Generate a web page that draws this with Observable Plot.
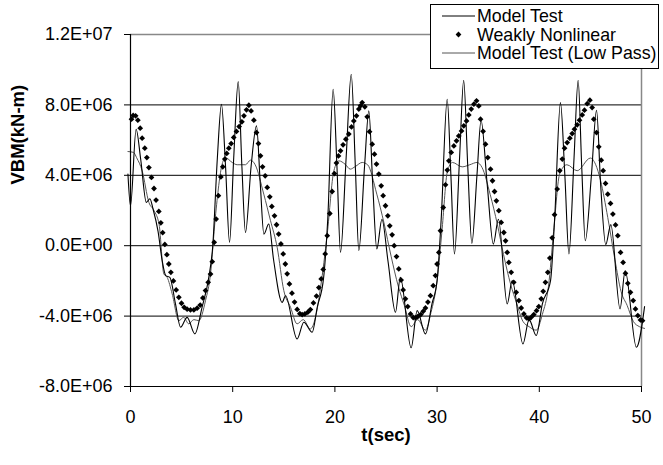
<!DOCTYPE html>
<html>
<head>
<meta charset="utf-8">
<script src="https://cdn.jsdelivr.net/npm/d3@7"></script>
<script src="https://cdn.jsdelivr.net/npm/@observablehq/plot@0.6"></script>
<style>
  html, body { margin: 0; padding: 0; background: #fff; }
  #chart { width: 663px; height: 465px; }
</style>
</head>
<body>
<div id="chart"></div>
<script>
// Values in units of 1E+06 kN-m, time in seconds
const modelTestT = [-0.25,0.0,0.55,1.0,1.55,1.9,2.2,2.7,3.1,3.45,3.85,4.4,4.9,5.54,6.3,7.0,7.66,8.05,8.5,8.9,9.3,9.69,10.1,10.54,10.9,11.25,11.8,12.33,12.7,13.05,13.53,14.0,14.84,15.17,16.3,16.96,17.78,18.27,18.9,19.3,19.83,20.2,20.55,21.1,21.6,22.0,22.34,22.9,23.32,23.7,24.1,24.6,25.2,25.93,26.4,27.46,28.05,28.86,29.5,30.0,30.4,30.99,31.35,31.7,32.2,32.6,33.0,33.4,33.9,34.3,34.9,35.5,36.0,36.86,37.35,38.4,39.0,39.7,40.3,41.1,41.5,42.07,42.5,42.9,43.4,43.8,44.15,44.5,45.1,45.6,46.0,46.5,47.0,47.9,48.4,49.5,50.3];
const modelTestV = [4.07,2.27,6.62,4.9,2.46,2.67,2.1,0.8,-0.85,-1.7,-1.8,-3.3,-4.63,-4.07,-5.01,-3.5,-1.8,0.0,5.0,8.04,4.5,0.19,5.0,9.32,4.5,0.75,4.5,6.81,3.5,0.66,1.23,-0.8,-3.22,-2.84,-5.3,-4.35,-4.92,-3.5,-1.8,1.5,8.89,4.5,-0.38,5.0,9.74,4.5,-0.28,4.5,7.66,3.5,-0.19,1.5,-0.9,-3.78,-1.8,-5.8,-3.69,-5.01,-3.3,-1.98,1.5,8.32,4.0,-0.47,5.0,9.4,4.5,0.13,4.0,7.13,3.5,0.09,1.5,-3.31,-1.98,-5.58,-4.2,-5.1,-3.3,-1.98,1.5,8.13,4.0,-0.47,5.0,9.4,4.5,0.28,4.0,7.7,3.5,0.06,1.2,-3.59,-1.42,-5.77,-3.46];

const weaklyT = [0.1,0.26,0.5,0.72,0.95,1.14,1.4,1.6,1.8,2.05,2.3,2.5,2.77,2.97,3.15,3.36,3.56,3.75,3.95,4.2,4.47,4.73,4.99,5.25,5.54,5.87,6.2,6.52,6.82,7.08,7.34,7.6,7.83,8.0,8.19,8.38,8.6,8.84,9.03,9.23,9.42,9.62,9.85,10.1,10.37,10.63,10.9,11.1,11.35,11.58,11.8,12.07,12.33,12.52,12.72,12.92,13.18,13.38,13.63,13.83,14.09,14.29,14.5,14.72,14.94,15.15,15.33,15.55,15.8,16.05,16.31,16.57,16.8,17.06,17.35,17.6,17.9,18.2,18.43,18.66,18.86,19.05,19.25,19.5,19.73,19.95,20.15,20.35,20.55,20.8,21.07,21.36,21.62,21.85,22.11,22.34,22.5,22.67,22.93,23.16,23.39,23.65,23.87,24.07,24.3,24.53,24.72,24.95,25.18,25.37,25.6,25.8,26.03,26.25,26.48,26.68,26.9,27.13,27.4,27.66,27.9,28.1,28.4,28.64,28.86,29.1,29.35,29.62,29.84,30.0,30.17,30.33,30.6,30.82,31.0,31.15,31.38,31.64,31.9,32.12,32.39,32.61,32.88,33.1,33.34,33.6,33.86,34.08,34.25,34.5,34.74,34.96,35.23,35.42,35.62,35.8,36.04,36.27,36.53,36.7,36.86,37.02,37.25,37.5,37.74,38.0,38.23,38.49,38.75,38.98,39.2,39.46,39.73,39.95,40.19,40.38,40.6,40.83,41.03,41.26,41.49,41.75,42.0,42.25,42.47,42.73,42.99,43.22,43.44,43.71,43.93,44.2,44.42,44.69,44.95,45.17,45.33,45.6,45.82,46.06,46.25,46.48,46.7,46.97,47.2,47.46,47.68,47.95,48.2,48.43,48.66,48.92,49.19,49.41,49.64,49.9,50.1];
const weaklyV = [7.19,7.4,7.38,7.13,6.68,6.11,5.54,5.01,4.44,3.88,3.25,2.59,1.95,1.3,0.74,0.07,-0.51,-1.04,-1.51,-2.0,-2.51,-2.93,-3.27,-3.5,-3.61,-3.65,-3.65,-3.55,-3.37,-2.97,-2.55,-2.08,-1.61,-0.91,0.19,1.51,2.84,3.91,4.48,4.92,5.24,5.54,5.8,6.15,6.49,6.77,7.04,7.38,7.72,7.98,7.66,7.13,6.43,5.8,5.11,4.48,3.97,3.31,2.78,2.23,1.7,1.19,0.66,0.1,-0.47,-1.04,-1.6,-2.17,-2.7,-3.2,-3.62,-3.86,-3.92,-3.88,-3.78,-3.63,-3.25,-2.86,-2.38,-1.89,-1.35,-0.47,0.57,1.83,3.08,4.1,4.7,5.1,5.39,5.73,6.05,6.34,6.75,7.09,7.38,7.76,7.95,8.13,7.89,7.32,6.48,5.77,5.2,4.64,4.07,3.4,2.84,2.27,1.7,1.13,0.62,0.0,-0.62,-1.32,-1.95,-2.51,-3.02,-3.46,-3.88,-4.08,-4.1,-4.03,-3.91,-3.73,-3.54,-3.2,-2.84,-2.27,-1.7,-1.04,-0.38,0.85,2.17,3.46,4.3,4.82,5.3,5.67,5.96,6.24,6.52,6.81,7.09,7.43,7.76,8.04,8.23,7.94,7.19,6.5,5.77,5.01,4.35,3.69,3.08,2.55,1.99,1.32,0.75,0.28,-0.38,-0.95,-1.51,-2.08,-2.65,-3.12,-3.54,-3.88,-4.1,-4.16,-4.07,-3.91,-3.69,-3.46,-3.02,-2.59,-2.08,-1.51,-0.7,0.45,1.76,3.22,4.26,4.92,5.54,5.86,6.11,6.37,6.62,6.87,7.13,7.43,7.7,8.07,8.27,7.85,7.19,6.43,5.62,4.86,4.26,3.54,2.93,2.4,1.8,1.18,0.57,-0.38,-0.95,-1.57,-2.14,-2.65,-3.12,-3.59,-3.97,-4.22,-4.26];

const lowPassT = [-0.25,0.3,0.6,1.14,1.8,2.3,2.8,3.26,3.59,4.08,4.73,5.2,5.7,6.2,6.68,7.34,7.83,8.3,8.97,9.3,9.95,10.44,11.25,11.74,12.2,13.04,13.7,14.35,15.0,15.66,16.3,16.9,17.6,18.1,18.6,19.25,19.9,20.4,21.0,21.5,22.0,22.67,23.2,24.1,24.8,25.5,26.2,26.8,27.46,28.1,28.86,29.4,30.0,30.5,31.0,31.5,32.45,33.2,33.9,34.4,35.2,35.9,36.5,37.2,37.8,38.4,39.0,39.7,40.3,40.9,41.4,42.0,42.7,43.7,45.0,45.5,46.0,46.7,47.4,48.0,48.6,49.2,49.8,50.3];
const lowPassV = [5.35,5.3,5.0,4.26,2.46,2.0,1.2,-1.6,-1.8,-2.74,-4.26,-4.07,-4.44,-4.2,-4.26,-3.12,-1.6,1.6,4.64,5.0,4.73,4.6,4.6,4.86,4.6,2.93,1.42,-0.09,-2.55,-3.5,-4.44,-4.2,-4.73,-4.07,-2.36,0.66,4.26,4.82,4.63,4.35,4.5,4.73,4.6,2.93,1.3,-0.6,-2.3,-3.4,-4.6,-4.2,-4.8,-3.8,-2.0,1.0,4.2,4.73,4.48,4.6,4.73,4.44,2.9,1.2,-0.5,-2.2,-3.3,-4.3,-4.6,-4.8,-3.9,-2.3,0.8,4.1,4.6,4.26,4.98,4.63,3.69,1.6,-0.8,-2.6,-3.4,-4.3,-4.6,-4.7];

const xTicks = [0, 10, 20, 30, 40, 50];
const yTicks = [-8, -4, 0, 4, 8, 12];
const yTickLabels = ["-8.0E+06", "-4.0E+06", "0.0E+00", "4.0E+06", "8.0E+06", "1.2E+07"];
const seriesNames = ["Model Test", "Weakly Nonlinear", "Model Test (Low Pass)"];
const xTitle = "t(sec)";
const yTitle = "VBM(kN-m)";

const E6 = 1e6;
const modelTest = modelTestT.map((t, i) => ({t, v: modelTestV[i] * E6}));
const weakly = weaklyT.map((t, i) => ({t, v: weaklyV[i] * E6}));
const lowPass = lowPassT.map((t, i) => ({t, v: lowPassV[i] * E6}));
const yLabelMap = new Map(yTicks.map((v, i) => [v * E6, yTickLabels[i]]));

const font = "'Liberation Sans', Arial, Helvetica, sans-serif";
const dotR = 2.6;

const chart = Plot.plot({
  width: 663,
  height: 465,
  marginLeft: 130,
  marginRight: 22,
  marginTop: 34,
  marginBottom: 79,
  style: {fontFamily: font, fontSize: "18px", background: "#fff", color: "#000", overflow: "visible"},
  x: {domain: [0, 50]},
  y: {domain: [-8 * E6, 12 * E6]},
  marks: [
    Plot.ruleY([8, 4, 0, -4].map(d => d * E6), {stroke: "#000", strokeWidth: 1}),
    Plot.ruleY([12 * E6], {stroke: "#888", strokeWidth: 1.5}),
    Plot.ruleX([50], {stroke: "#888", strokeWidth: 1.5}),
    Plot.line(lowPass, {x: "t", y: "v", stroke: "#555", strokeWidth: 1, curve: "monotone-x"}),
    Plot.line(modelTest, {x: "t", y: "v", stroke: "#000", strokeWidth: 1.1, curve: "monotone-x"}),
    Plot.dot(weakly, {x: "t", y: "v", symbol: "diamond2", fill: "#000", stroke: "none", r: dotR}),
    Plot.ruleX([0], {stroke: "#000", strokeWidth: 1.2}),
    Plot.ruleY([-8 * E6], {stroke: "#000", strokeWidth: 1.2}),
    Plot.axisY({ticks: yTicks.map(d => d * E6), tickFormat: d => yLabelMap.get(d), tickSize: 6, tickPadding: 12, label: null}),
    Plot.axisX({ticks: xTicks, tickFormat: d => String(d), tickSize: 6, tickPadding: 18, label: null}),
    Plot.text([yTitle], {frameAnchor: "left", rotate: -90, dx: -112, dy: -26, fontWeight: "bold", fontSize: 18.5}),
    Plot.text([xTitle], {frameAnchor: "bottom", dy: 54, fontWeight: "bold", fontSize: 18.5})
  ]
});

document.getElementById("chart").appendChild(chart);

const svg = d3.select(chart);
svg.selectAll('g[aria-label="y-axis tick label"] text').style("font-size", "18px");
svg.selectAll('g[aria-label="x-axis tick label"] text').style("font-size", "18px");

// Legend (inside the SVG, top right)
const lg = svg.append("g").attr("font-family", font).attr("text-anchor", "start");
lg.append("rect").attr("x", 430.5).attr("y", 4.5).attr("width", 228).attr("height", 64)
  .attr("fill", "#fff").attr("stroke", "#000").attr("stroke-width", 1);
const rows = [16, 34.5, 53];
lg.append("line").attr("x1", 442).attr("x2", 475).attr("y1", rows[0]).attr("y2", rows[0]).attr("stroke", "#000");
lg.append("path").attr("d", d3.symbol(d3.symbolDiamond2, dotR * dotR * Math.PI)()).attr("transform", `translate(458.5,${rows[1]})`).attr("fill", "#000");
lg.append("line").attr("x1", 442).attr("x2", 475).attr("y1", rows[2]).attr("y2", rows[2]).attr("stroke", "#555");
seriesNames.forEach((name, i) => {
  lg.append("text").attr("x", 477).attr("y", rows[i]).attr("dy", "0.35em")
    .attr("fill", "#000").style("font-size", "17.8px").style("text-anchor", "start").text(name);
});
</script>
</body>
</html>
